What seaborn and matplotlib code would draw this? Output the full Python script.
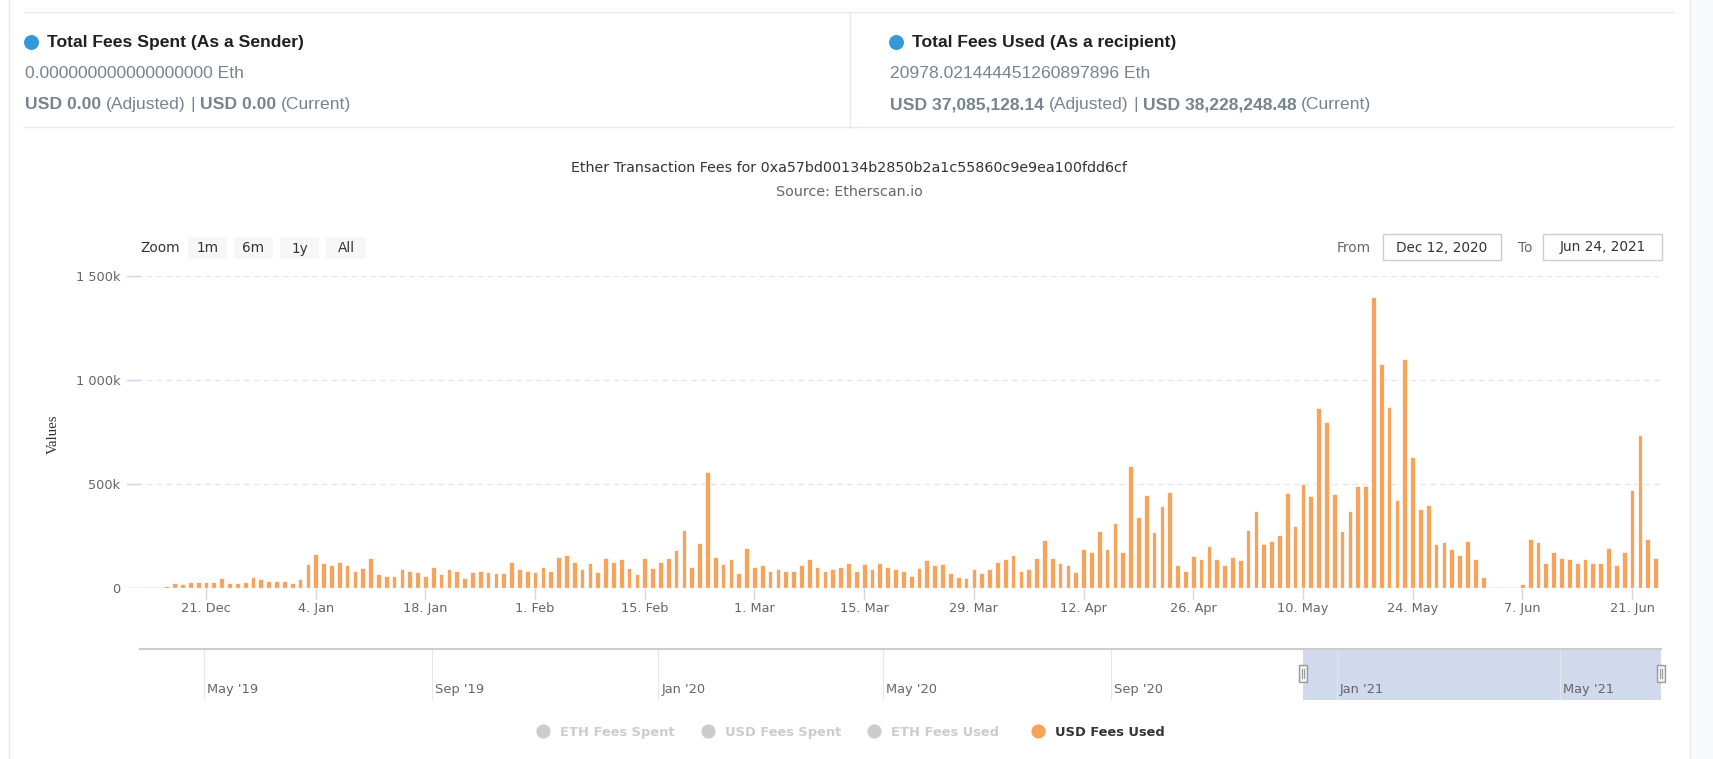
import matplotlib
matplotlib.use("Agg")
import matplotlib.pyplot as plt
import matplotlib.dates as mdates
from matplotlib.patches import Rectangle
import numpy as np
import pandas as pd
import seaborn as sns

# --- data (USD fees used per day)
start_date = "2020-12-12"
end_date = "2021-06-24"
usd_fees_used = [
    # Dec 12 - Dec 31
    2e3, 3e3, 4e3, 7e3, 11e3, 24e3, 19e3, 30e3, 30e3, 30e3,
    30e3, 48e3, 26e3, 26e3, 30e3, 55e3, 43e3, 37e3, 37e3, 37e3,
    # Jan
    26e3, 43e3, 116e3, 165e3, 123e3, 110e3, 127e3, 110e3, 84e3, 97e3,
    145e3, 68e3, 61e3, 61e3, 92e3, 84e3, 79e3, 60e3, 103e3, 68e3,
    92e3, 85e3, 48e3, 79e3, 85e3, 79e3, 74e3, 74e3, 127e3, 92e3, 85e3,
    # Feb
    79e3, 103e3, 85e3, 152e3, 158e3, 127e3, 92e3, 123e3, 79e3, 145e3,
    127e3, 140e3, 97e3, 68e3, 145e3, 97e3, 127e3, 145e3, 182e3, 279e3,
    103e3, 219e3, 557e3, 152e3, 116e3, 140e3, 74e3, 194e3,
    # Mar
    103e3, 110e3, 85e3, 92e3, 85e3, 85e3, 110e3, 140e3, 103e3, 85e3,
    92e3, 103e3, 123e3, 85e3, 116e3, 92e3, 123e3, 103e3, 92e3, 85e3,
    61e3, 97e3, 134e3, 110e3, 116e3, 74e3, 55e3, 48e3, 92e3, 74e3, 92e3,
    # Apr
    127e3, 140e3, 158e3, 85e3, 92e3, 145e3, 231e3, 145e3, 123e3, 110e3,
    79e3, 189e3, 176e3, 273e3, 189e3, 316e3, 176e3, 587e3, 341e3, 448e3,
    269e3, 395e3, 461e3, 112e3, 85e3, 153e3, 141e3, 201e3, 141e3, 110e3,
    # May
    152e3, 134e3, 280e3, 369e3, 214e3, 225e3, 256e3, 460e3, 298e3, 502e3,
    441e3, 866e3, 800e3, 454e3, 274e3, 369e3, 490e3, 490e3, 1399e3, 1077e3,
    872e3, 424e3, 1101e3, 633e3, 382e3, 400e3, 214e3, 220e3, 190e3, 160e3, 225e3,
    # Jun 1 - Jun 24
    140e3, 55e3, 0, 5e3, 0, 0, 19e3, 237e3, 224e3, 123e3,
    176e3, 145e3, 140e3, 123e3, 140e3, 123e3, 123e3, 194e3, 110e3, 176e3,
    473e3, 737e3, 237e3, 145e3,
]

xtick_dates = ["2020-12-21", "2021-01-04", "2021-01-18", "2021-02-01", "2021-02-15",
               "2021-03-01", "2021-03-15", "2021-03-29", "2021-04-12", "2021-04-26",
               "2021-05-10", "2021-05-24", "2021-06-07", "2021-06-21"]
xtick_labels = ["21. Dec", "4. Jan", "18. Jan", "1. Feb", "15. Feb", "1. Mar", "15. Mar",
                "29. Mar", "12. Apr", "26. Apr", "10. May", "24. May", "7. Jun", "21. Jun"]
ytick_values = [0, 500000, 1000000, 1500000]
ytick_labels = ["0", "500k", "1 000k", "1 500k"]

nav_dates = ["2019-05-01", "2019-09-01", "2020-01-01", "2020-05-01",
             "2020-09-01", "2021-01-01", "2021-05-01"]
nav_labels = ["May '19", "Sep '19", "Jan '20", "May '20", "Sep '20", "Jan '21", "May '21"]

legend_names = ["ETH Fees Spent", "USD Fees Spent", "ETH Fees Used", "USD Fees Used"]
legend_visible = [False, False, False, True]

chart_title = "Ether Transaction Fees for 0xa57bd00134b2850b2a1c55860c9e9ea100fdd6cf"
chart_subtitle = "Source: Etherscan.io"

# --- figure
W, H = 1713, 759
ORANGE = "#f7a35c"
fig = plt.figure(figsize=(W / 100, H / 100), dpi=100)
fig.patch.set_facecolor("white")

# overlay in pixel coordinates for the page chrome
ov = fig.add_axes([0, 0, 1, 1], zorder=5)
ov.set_xlim(0, W)
ov.set_ylim(H, 0)
ov.axis("off")
ov.patch.set_visible(False)

# main chart
dates = pd.date_range(start_date, end_date, freq="D")
df = pd.DataFrame({"day": (dates - dates[0]).days, "usd": usd_fees_used})

ax = fig.add_axes([126.7 / W, 1 - 588.3 / H, 1534 / W, 312.3 / H])
sns.barplot(data=df, x="day", y="usd", native_scale=True, width=0.6, color=ORANGE,
            saturation=1, edgecolor="white", linewidth=0.5, errorbar=None, ax=ax, zorder=2)
ax.set_xlim(-1.12, 194.66)
ax.set_ylim(0, 1500000)
for s in ax.spines.values():
    s.set_visible(False)
ax.set_xlabel("")
ax.set_ylabel("")
ax.yaxis.grid(True, color="#e6e6e6", linestyle=(0, (4, 3)), linewidth=1)
ax.set_axisbelow(True)
ax.axhline(0, color="#ccd6eb", lw=1, zorder=3)

xt = (pd.to_datetime(xtick_dates) - dates[0]).days
ax.set_xticks(xt, labels=xtick_labels)
ax.set_yticks(ytick_values, labels=ytick_labels)
ax.tick_params(axis="x", length=8, width=1, color="#ccd6eb", pad=2,
               labelsize=9.3, labelcolor="#666666")
ax.tick_params(axis="y", length=0, pad=4.5, labelsize=9.3, labelcolor="#666666")
for lab in ax.get_xticklabels() + ax.get_yticklabels():
    lab.set_family("DejaVu Sans")

# small blue marks at gridline starts
for py in (276, 380.4, 484.4):
    ov.plot([127, 140], [py, py], color="#ccd6eb", lw=1)

ov.text(53.5, 434, "Values", rotation=90, ha="center", va="center",
        family="Liberation Serif", fontsize=10.6, color="#333333")

# title
ov.text(849, 168.5, chart_title, ha="center", va="center", family="DejaVu Sans",
        fontsize=10.3, color="#333333")
ov.text(849, 192, chart_subtitle, ha="center", va="center", family="DejaVu Sans",
        fontsize=10.3, color="#666666")

# range selector
ov.text(140, 248, "Zoom", ha="left", va="center", family="DejaVu Sans", fontsize=9.8,
        color="#333333")
for (x0, x1), lab in zip([(188, 227), (234, 273), (280, 319), (326, 366)], ["1m", "6m", "1y", "All"]):
    ov.add_patch(Rectangle((x0, 237.3), x1 - x0, 22, facecolor="#f7f7f7", edgecolor="none"))
    ov.text((x0 + x1) / 2, 248.5, lab, ha="center", va="center", family="DejaVu Sans",
            fontsize=9.8, color="#333333")
ov.text(1354, 248, "From", ha="center", va="center", family="DejaVu Sans",
        fontsize=9.8, color="#666666")
ov.text(1525, 248, "To", ha="center", va="center", family="DejaVu Sans",
        fontsize=9.8, color="#666666")
for (x0, x1), lab in zip([(1382.5, 1500.5), (1543, 1662)], ["Dec 12, 2020", "Jun 24, 2021"]):
    ov.add_patch(Rectangle((x0, 234), x1 - x0, 26, facecolor="white", edgecolor="#cccccc", lw=1))
    ov.text((x0 + x1) / 2, 247.5, lab, ha="center", va="center", family="DejaVu Sans",
            fontsize=9.8, color="#333333")

# navigator
nav = fig.add_axes([140 / W, 1 - 700 / H, 1521 / W, 51 / H])
nav_left = mdates.date2num(pd.Timestamp("2019-03-27 12:00"))
nav_right = mdates.date2num(dates[0]) + 194.66
nav.set_xlim(nav_left, nav_right)
nav.set_ylim(0, 1)
nav.axis("off")
for d, lab in zip(nav_dates, nav_labels):
    xd = mdates.date2num(pd.Timestamp(d))
    nav.axvline(xd, color="#e6e6e6", lw=0.8)
    nav.text(xd + 1.6, 0.2, lab, ha="left", va="center", family="DejaVu Sans",
             fontsize=9.4, color="#666666")
sel_px = 1303
sel0 = nav_left + (sel_px - 140) / 1521 * (nav_right - nav_left)
nav.axvspan(sel0, nav_right, color=(102 / 255, 133 / 255, 194 / 255, 0.3), lw=0)
ov.plot([140, 1661], [649, 649], color="#cccccc", lw=1.5)
for hx in (sel_px, 1661):
    ov.add_patch(Rectangle((hx - 4, 665), 8, 17, facecolor="#f2f2f2", edgecolor="#999999", lw=1))
    ov.plot([hx - 1, hx - 1], [669, 678], color="#999999", lw=0.8)
    ov.plot([hx + 1, hx + 1], [669, 678], color="#999999", lw=0.8)

# legend
for cx, name, vis in zip([543, 708, 874, 1038], legend_names, legend_visible):
    col = ORANGE if vis else "#cccccc"
    ov.scatter([cx], [730.5], s=85, color=col, zorder=6)
    ov.text(cx + 17, 731, name, ha="left", va="center_baseline", family="DejaVu Sans",
            fontweight="bold", fontsize=9.4, color="#333333" if vis else "#cccccc")

# page chrome: card borders and header
LINE = "#e7eaf3"
ov.plot([8.5, 8.5], [0, H], color=LINE, lw=1)
ov.plot([1689.5, 1689.5], [0, H], color=LINE, lw=1)
ov.add_patch(Rectangle((1690, 0), W - 1690, H, facecolor="#f8f9fa", edgecolor="none"))
ov.plot([24, 1673], [12.3, 12.3], color=LINE, lw=1)
ov.plot([24, 1673], [126.5, 126.5], color=LINE, lw=1)
ov.plot([849.5, 849.5], [12.3, 126.5], color=LINE, lw=1)

renderer = fig.canvas.get_renderer()
HSIZE = 12.6


def text_width(s, bold):
    t = ov.text(0, 0, s, family="Liberation Sans", fontsize=HSIZE,
                fontweight="bold" if bold else "normal")
    w = t.get_window_extent(renderer).width
    t.remove()
    return w


space_w = text_width("a a", False) - text_width("aa", False)


def text_runs(x, y, parts, color):
    for s, bold in parts:
        t = ov.text(x, y, s, ha="left", va="center", family="Liberation Sans", fontsize=HSIZE,
                    fontweight="bold" if bold else "normal", color=color)
        x += t.get_window_extent(renderer).width + space_w


BLUE = "#3498db"
DARK = "#1e2022"
GREY = "#77838f"
headers = [
    (25, 46.6, 31, "Total Fees Spent (As a Sender)", "0.000000000000000000 Eth",
     "USD 0.00", "USD 0.00"),
    (890, 911.7, 896, "Total Fees Used (As a recipient)", "20978.021444451260897896 Eth",
     "USD 37,085,128.14", "USD 38,228,248.48"),
]
for x_text, x_head, x_dot, head, eth, adj, cur in headers:
    ov.scatter([x_dot], [42], s=95, color=BLUE, zorder=6)
    ov.text(x_head, 42, head, ha="left", va="center", family="Liberation Sans",
            fontsize=HSIZE, fontweight="bold", color=DARK)
    ov.text(x_text, 73.5, eth, ha="left", va="center", family="Liberation Sans",
            fontsize=HSIZE, color=GREY)
    text_runs(x_text, 104.5, [(adj, True), ("(Adjusted)", False), ("|", False),
                              (cur, True), ("(Current)", False)], GREY)

fig.savefig("out.png", dpi=100, facecolor="white")
